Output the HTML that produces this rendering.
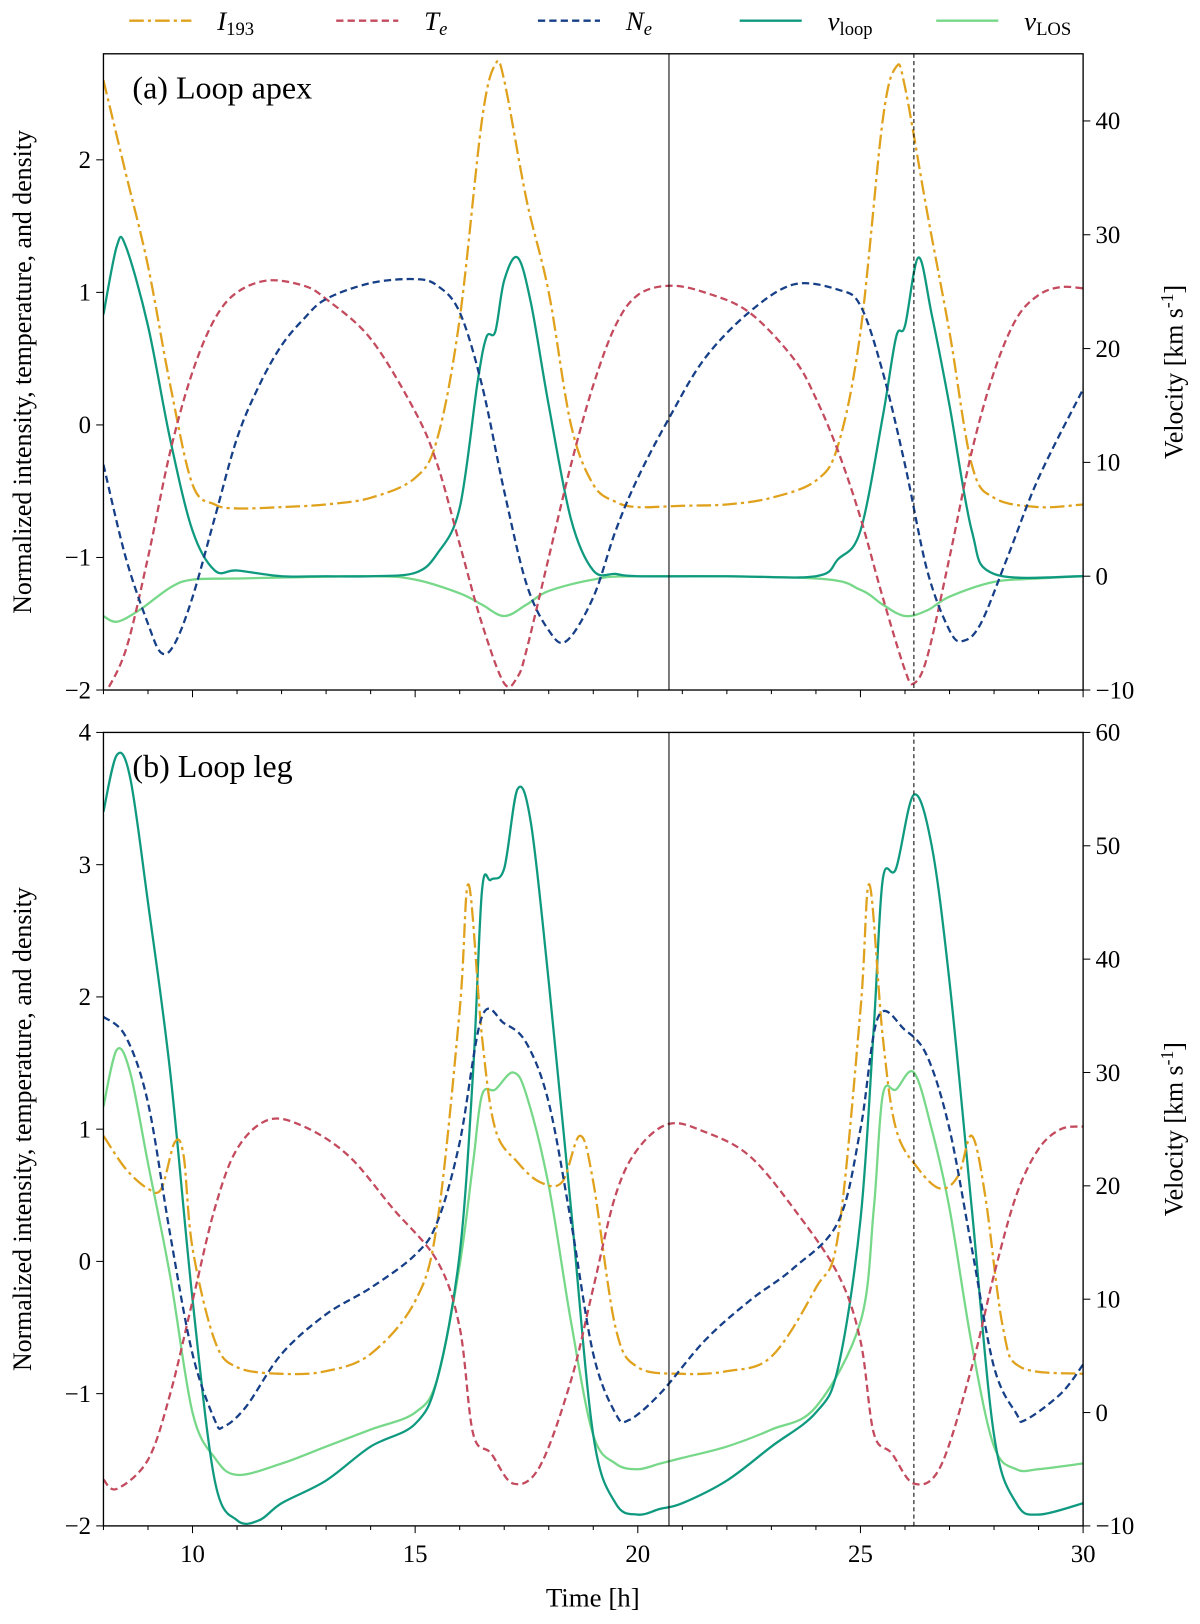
<!DOCTYPE html>
<html><head><meta charset="utf-8"><style>
body{margin:0;background:#fff}
svg text{font-family:"Liberation Serif",serif;fill:#000}
</style></head><body>
<svg id="fig" width="1200" height="1619" viewBox="0 0 1160 1565" preserveAspectRatio="none"></svg>
<script>
const aI_t=[8,8.5,9,9.5,10,10.5,11,12,13,14,15,15.5,16,16.5,16.8,17,17.5,18,18.5,19,19.5,20,21,22,23,24,24.5,25,25.5,25.8,26,26.5,27,27.5,28,29,30];
const aI_v=[2.6,1.9,1.2,0.3,-0.45,-0.6,-0.63,-0.62,-0.6,-0.55,-0.4,-0.1,0.8,2.3,2.72,2.6,1.7,1.0,0.0,-0.45,-0.58,-0.62,-0.61,-0.6,-0.55,-0.42,-0.15,0.7,2.3,2.7,2.55,1.6,0.7,-0.3,-0.55,-0.62,-0.6];
const aT_t=[8,8.5,9,9.5,10,10.5,11,11.7,12.5,13,14,15,15.5,16,16.5,17,17.3,17.5,18,18.5,19,19.5,20,20.7,21.5,22.5,23.5,24,24.5,25,25.5,26,26.2,26.5,27,27.5,28,28.5,29,29.5,30];
const aT_v=[-2.05,-1.7,-1.0,-0.2,0.4,0.8,1.0,1.09,1.05,0.95,0.65,0.1,-0.3,-0.9,-1.5,-1.95,-1.9,-1.7,-1.0,-0.3,0.3,0.75,0.98,1.05,1.0,0.85,0.5,0.2,-0.2,-0.7,-1.3,-1.85,-1.95,-1.75,-1.0,-0.2,0.4,0.8,0.98,1.04,1.03];
const aN_t=[8,8.5,9,9.3,9.6,10,10.5,11,11.5,12,12.5,13,14,15,15.5,16,16.5,17,17.5,18,18.4,19,19.5,20,20.7,21.5,22.5,23.5,24.5,25,25.5,26,26.5,27,27.3,27.7,28.3,29,30];
const aN_v=[-0.3,-1.0,-1.5,-1.72,-1.65,-1.3,-0.7,-0.1,0.3,0.6,0.8,0.95,1.07,1.1,1.05,0.85,0.3,-0.5,-1.2,-1.55,-1.63,-1.3,-0.8,-0.4,0.05,0.5,0.85,1.06,1.02,0.9,0.4,-0.3,-1.1,-1.55,-1.63,-1.5,-1.0,-0.4,0.27];
const aVl_t=[8,8.3,8.5,9,9.5,10,10.5,11,12,13,14,15,15.5,16,16.4,16.6,16.8,17,17.3,17.6,18,18.5,19,19.5,20,22,24,24.5,25,25.5,25.8,26,26.3,26.6,27,27.5,28,30];
const aVl_v=[23,29,29,22,12,4,0.5,0.5,0,0,0,0.3,2,6,17,21,21.5,26,28,24,15,5,0.5,0.2,0,0,0,1.5,4,14,21,22,28,23,15,4,0.2,0];
const aVs_t=[8,8.3,8.8,9.5,10,11,14,15,16,16.5,17,17.5,18,19,20,24,25,25.5,26,26.5,27,28,29,30];
const aVs_v=[-3.5,-4,-3,-1,-0.3,-0.2,0,-0.3,-1.5,-2.5,-3.5,-2.5,-1.3,-0.3,0,-0.2,-1.2,-2.5,-3.5,-3,-1.8,-0.5,-0.2,0];

const bI_t=[8,8.5,9,9.3,9.6,9.8,10,10.5,11,12,13,14,15,15.5,16,16.2,16.5,16.8,17.3,17.8,18.3,18.7,19,19.5,20,21,22,23,24,24.5,25,25.2,25.5,25.8,26.3,26.8,27.2,27.5,27.8,28.2,28.6,30];
const bI_v=[0.95,0.7,0.55,0.55,0.9,0.8,0.1,-0.6,-0.8,-0.85,-0.83,-0.7,-0.3,0.3,1.9,2.85,1.7,1.0,0.75,0.6,0.6,0.95,0.6,-0.5,-0.8,-0.85,-0.83,-0.72,-0.2,0.2,1.9,2.85,1.7,1.0,0.7,0.55,0.65,0.95,0.5,-0.5,-0.8,-0.85];
const bT_t=[8,8.3,9,9.5,10,10.5,11,11.7,12.5,13.5,14.5,15.5,16,16.3,16.7,17.2,17.8,18.5,19,19.5,20,20.7,21.5,22.5,23.5,24.5,25,25.3,25.7,26.2,26.8,27.5,28,28.5,29,29.5,30];
const bT_v=[-1.65,-1.72,-1.5,-1.0,-0.3,0.4,0.85,1.07,1.02,0.8,0.4,0.0,-0.5,-1.3,-1.45,-1.68,-1.55,-0.9,-0.2,0.5,0.85,1.04,0.98,0.8,0.4,-0.1,-0.6,-1.3,-1.45,-1.68,-1.55,-0.8,-0.1,0.5,0.85,1.0,1.02];
const bN_t=[8,8.5,9,9.5,10,10.5,10.7,11.2,12,13,14,15,15.5,16,16.5,17,17.5,18,18.5,19,19.5,19.8,20.5,21.5,22.5,23.5,24.5,25,25.4,26,26.5,27,27.5,28,28.5,28.7,29.5,30];
const bN_v=[1.85,1.7,1.2,0.2,-0.7,-1.2,-1.25,-1.1,-0.7,-0.4,-0.2,0.05,0.3,0.9,1.85,1.8,1.65,1.2,0.3,-0.7,-1.15,-1.2,-1.0,-0.6,-0.3,-0.05,0.3,1.0,1.85,1.75,1.55,1.0,0.1,-0.8,-1.15,-1.2,-1.0,-0.78];
const bVl_t=[8,8.3,8.6,9,9.5,10,10.5,11,11.5,12,13,14,15,15.5,16,16.3,16.5,16.7,17,17.3,17.6,18,18.5,19,19.5,20,20.5,21,22,23,24,24.5,25,25.3,25.5,25.8,26.2,26.6,27,27.5,28,28.5,29,30];
const bVl_v=[53,58,56,45,30,10,-6,-9.5,-9.5,-8,-6,-3,-1,3,14,30,46,47,48,55,52,38,18,-2,-8,-9,-8.5,-8,-6,-3,0,4,17,34,47,48,54.5,50,38,18,-2,-8,-9,-8];
const bVs_t=[8,8.3,8.6,9,9.5,10,10.5,11,12,13,14,15,15.5,16,16.3,16.5,16.8,17.2,17.5,18,18.5,19,19.5,20,20.5,21,22,23,24,25,25.3,25.5,25.8,26.2,26.6,27,27.5,28,28.5,29,30];
const bVs_v=[27,32,30,22,12,0,-4,-5.5,-4.5,-3,-1.5,0,3,13,22,28,28.5,30,28,20,8,-2,-4.5,-5,-4.5,-4,-3,-1.5,0.5,8,18,28,28.5,30,25,18,6,-3,-5,-5,-4.5];

const xTicks=[10,15,20,25,30];
const NS="http://www.w3.org/2000/svg";
const svg=document.getElementById('fig');
function el(tag,attrs,parent){const e=document.createElementNS(NS,tag);for(const k in attrs)e.setAttribute(k,attrs[k]);(parent||svg).appendChild(e);return e;}
const X0=100,X1=1047;
const xs=t=>X0+(t-8)/(22)*(X1-X0);
function path(ts,vs,ys){
  const p=ts.map((t,i)=>[xs(t),ys(vs[i])]);
  let d=`M${p[0][0]},${p[0][1]}`;
  for(let i=0;i<p.length-1;i++){
    const p0=p[Math.max(0,i-1)],p1=p[i],p2=p[i+1],p3=p[Math.min(p.length-1,i+2)];
    const c1=[p1[0]+(p2[0]-p0[0])/6,p1[1]+(p2[1]-p0[1])/6];
    const c2=[p2[0]-(p3[0]-p1[0])/6,p2[1]-(p3[1]-p1[1])/6];
    d+=` C${c1[0]},${c1[1]} ${c2[0]},${c2[1]} ${p2[0]},${p2[1]}`;
  }
  return d;
}
const styles={I:{c:'#e0a11c',da:'14,4,3,4'},T:{c:'#c44a5e',da:'7,4'},N:{c:'#163f88',da:'7,4'},Vl:{c:'#0f9a80',da:''},Vs:{c:'#76d888',da:''}};
function panel(cfg){
  const {top,bot,lmin,lmax,lticks,rmin,rmax,rticks,label,key,series}=cfg;
  const g=el('g',{});
  
  
  const yl=v=>bot-(v-lmin)/(lmax-lmin)*(bot-top);
  const yr=v=>bot-(v-rmin)/(rmax-rmin)*(bot-top);
  const cp=el('clipPath',{id:'cp'+key},g);el('rect',{x:X0,y:top,width:X1-X0,height:bot-top},cp);
  const sg=el('g',{'clip-path':`url(#cp${key})`},g);
  const order=['Vs','Vl','I','T','N'];
  order.forEach(s=>{const [ts,vs]=series[s];const st=styles[s];
    const pth=el('path',{d:path(ts,vs,(s==='Vl'||s==='Vs')?yr:yl),fill:'none',stroke:st.c,'stroke-width':2.2,'stroke-dasharray':st.da},sg);
    
    });
  el('line',{x1:xs(20.7),x2:xs(20.7),y1:top,y2:bot,stroke:'#000','stroke-width':1},g);
  el('line',{x1:xs(26.2),x2:xs(26.2),y1:top,y2:bot,stroke:'#000','stroke-width':1,'stroke-dasharray':'4,3'},g);
  el('rect',{x:X0,y:top,width:X1-X0,height:bot-top,fill:'none',stroke:'#000','stroke-width':1.3},g);
  for(let t=8;t<=30;t++){const major=xTicks.includes(t);el('line',{x1:xs(t),x2:xs(t),y1:bot,y2:bot+(major?7:4),stroke:'#000','stroke-width':1},g);}
  lticks.forEach(v=>{el('line',{x1:X0-7,x2:X0,y1:yl(v),y2:yl(v),stroke:'#000'},g);
    const t=el('text',{x:X0-12,y:yl(v)+8,'text-anchor':'end','font-size':24},g);t.textContent=v<0?'\u2212'+(-v):v;});
  rticks.forEach(v=>{el('line',{x1:X1,x2:X1+7,y1:yr(v),y2:yr(v),stroke:'#000'},g);
    const t=el('text',{x:X1+12,y:yr(v)+8,'font-size':24},g);t.textContent=v<0?'\u2212'+(-v):v;});
  const lab=el('text',{x:128,y:top+43,'font-size':31},g);lab.textContent=label;
  
  
  const cy=(top+bot)/2;
  const yt=el('text',{x:0,y:0,'font-size':25,'text-anchor':'middle',transform:`translate(30,${cy}) rotate(-90)`},g);yt.textContent='Normalized intensity, temperature, and density';
  
  
  const rt=el('text',{x:0,y:0,'font-size':25,'text-anchor':'middle',transform:`translate(1143,${cy}) rotate(-90)`},g);
  rt.innerHTML='Velocity [km s<tspan dy="-9" font-size="17">-1</tspan><tspan dy="9">]</tspan>';
  
  
  return {bot};
}
panel({top:52,bot:667,lmin:-2,lmax:2.8,lticks:[-2,-1,0,1,2],rmin:-10,rmax:45.9,rticks:[-10,0,10,20,30,40],label:'(a) Loop apex',key:'a',
  series:{I:[aI_t,aI_v],T:[aT_t,aT_v],N:[aN_t,aN_v],Vl:[aVl_t,aVl_v],Vs:[aVs_t,aVs_v]}});
panel({top:708,bot:1475,lmin:-2,lmax:4,lticks:[-2,-1,0,1,2,3,4],rmin:-10,rmax:60,rticks:[-10,0,10,20,30,40,50,60],label:'(b) Loop leg',key:'b',
  series:{I:[bI_t,bI_v],T:[bT_t,bT_v],N:[bN_t,bN_v],Vl:[bVl_t,bVl_v],Vs:[bVs_t,bVs_v]}});
xTicks.forEach(t=>{const e=el('text',{x:xs(t),y:1510,'text-anchor':'middle','font-size':24});e.textContent=t;});
const xt=el('text',{x:573,y:1553,'text-anchor':'middle','font-size':26});xt.textContent='Time [h]';


const leg=[['I','I','193',125],['T','T','e',325],['N','N','e',520],['Vl','v','loop',715],['Vs','v','LOS',905]];
leg.forEach(([k,m,sub,x])=>{const st=styles[k];
  const ln=el('line',{x1:x,x2:x+60,y1:20,y2:20,stroke:st.c,'stroke-width':2.2,'stroke-dasharray':st.da});
  
  
  const t=el('text',{x:x+85,y:29,'font-size':26});
  t.innerHTML=`<tspan font-style="italic">${m}</tspan><tspan dy="5" font-size="18" ${sub==='e'?'font-style="italic"':''}>${sub}</tspan>`;
  
  
});
</script>
</body></html>
